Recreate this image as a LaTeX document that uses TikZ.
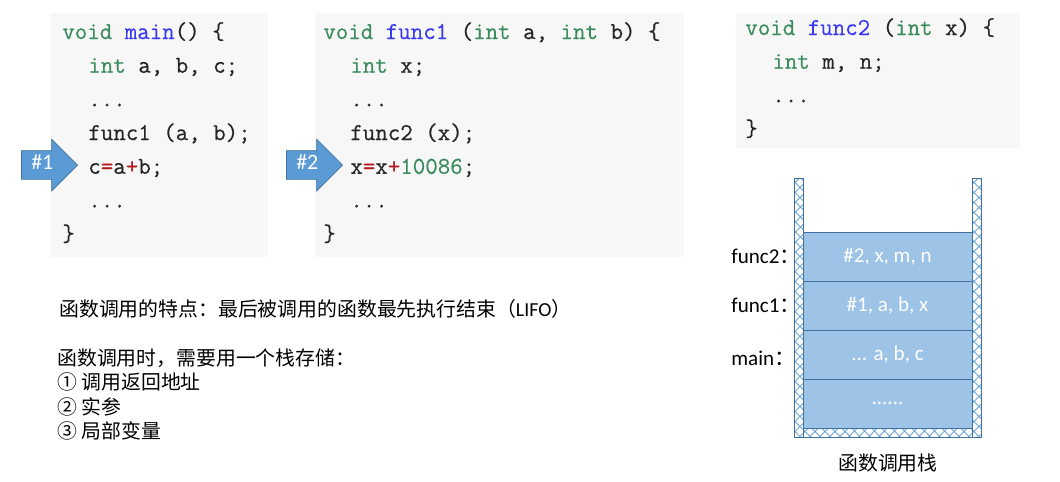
\documentclass[tikz,border=0pt]{standalone}
\usepackage{fontspec}
\usepackage{xcolor}
\usetikzlibrary{shapes.arrows,patterns.meta}
\newfontfamily\cjk{Noto Sans CJK SC}
\newfontfamily\calib{Carlito}
\newfontfamily\codefont{Latin Modern Mono}[FakeBold=0.5]
\definecolor{codebg}{HTML}{F7F7F7}
\definecolor{kwgreen}{HTML}{3A8C5C}
\definecolor{fnblue}{HTML}{3A3AF0}
\definecolor{opred}{HTML}{B0181C}
\definecolor{arrowblue}{HTML}{5B9BD5}
\definecolor{edgeblue}{HTML}{41719C}
\definecolor{cellblue}{HTML}{9DC3E6}
\newcommand{\kw}[1]{\textcolor{kwgreen}{#1}}
\newcommand{\fn}[1]{\textcolor{fnblue}{#1}}
\newcommand{\op}[1]{\textcolor{opred}{#1}}

\begin{document}
\begin{tikzpicture}[x=0.02cm,y=-0.02cm,
    code/.style={anchor=base west,inner sep=0pt,font=\codefont\fontsize{13.8}{16}\selectfont,text=black!85},
    jump/.style={single arrow,draw=edgeblue,fill=arrowblue,text=white,font=\calib\fontsize{12.5}{14}\selectfont,
        minimum height=1.12cm,single arrow head extend=0.23cm,inner xsep=0.1cm,inner ysep=0.14cm,
        text height=0.22cm,text depth=0.06cm,anchor=tip},
    cell/.style={draw=edgeblue,fill=cellblue,minimum width=3.38cm,minimum height=0.98cm,inner sep=0pt,
        text=white,font=\calib\fontsize{12}{14}\selectfont},
    hatch/.style={pattern={Lines[angle=45,distance=4pt,line width=0.5pt]},pattern color=arrowblue},
    hatchb/.style={pattern={Lines[angle=-45,distance=4pt,line width=0.5pt]},pattern color=arrowblue},
    note/.style={anchor=west,inner sep=0pt,font=\cjk\fontsize{11.3}{13}\selectfont},
    side/.style={anchor=west,inner sep=0pt,font=\calib\fontsize{12}{14}\selectfont}]
    \useasboundingbox (0,0) rectangle (1060,481);
    % code boxes
    \fill[codebg] (50,13) rectangle (268,257);
    \fill[codebg] (315,13) rectangle (684,257);
    \fill[codebg] (736,13) rectangle (1020,148);
    \foreach \i/\x/\txt in {1/62/{\kw{void} \fn{main}() \{},2/88/{\kw{int} a, b, c;},3/88/{...},
            4/88/{func1 (a, b);},5/88/{c\op{=}a\op{+}b;},6/88/{...},7/62/{\}}} {
            \node[code] (main\i) at (\x,{39+33.7*(\i-1)}) {\txt};
        }
    \foreach \i/\x/\txt in {1/323/{\kw{void} \fn{func1} (\kw{int} a, \kw{int} b) \{},2/350/{\kw{int} x;},3/350/{...},
            4/350/{func2 (x);},5/350/{x\op{=}x\op{+}\kw{10086};},6/350/{...},7/323/{\}}} {
            \node[code] (fa\i) at (\x,{39+33.7*(\i-1)}) {\txt};
        }
    \foreach \i/\x/\txt in {1/745/{\kw{void} \fn{func2} (\kw{int} x) \{},2/772/{\kw{int} m, n;},3/772/{...},4/745/{\}}} {
            \node[code] (fb\i) at (\x,{35+33.7*(\i-1)}) {\txt};
        }
    % return points
    \node[jump] (ret1) at (78,165) {\#1};
    \node[jump] (ret2) at (343,165) {\#2};
    % call stack
    \foreach \xa/\ya/\xb/\yb in {794/178/803/437,972/178/981/437,803/428/972/437} {
            \fill[hatch] (\xa,\ya) rectangle (\xb,\yb);
            \fill[hatchb] (\xa,\ya) rectangle (\xb,\yb);
            \draw[edgeblue] (\xa,\ya) rectangle (\xb,\yb);
        }
    \node[cell] (fr1) at (887.5,256.5) {\#2, x, m, n};
    \node[cell] (fr2) at (887.5,305.5) {\#1, a, b, x};
    \node[cell] (fr3) at (887.5,354.5) {... a, b, c};
    \node[cell] (fr4) at (887.5,403.5) {......};
    \node[side] (lb1) at (731,256) {func2{\cjk ：}};
    \node[side] (lb2) at (731,305) {func1{\cjk ：}};
    \node[side] (lb3) at (731,358) {main{\cjk ：}};
    \node[note,anchor=center] (cap) at (888,463) {函数调用栈};
    % notes
    \node[note] (n1) at (59,309) {函数调用的特点：最后被调用的函数最先执行结束（{\calib LIFO}）};
    \node[note] (n2) at (57,358) {函数调用时，需要用一个栈存储：};
    \node[note] (n3) at (57,382) {① 调用返回地址};
    \node[note] (n4) at (57,407) {② 实参};
    \node[note] (n5) at (57,431) {③ 局部变量};
\end{tikzpicture}
\end{document}
